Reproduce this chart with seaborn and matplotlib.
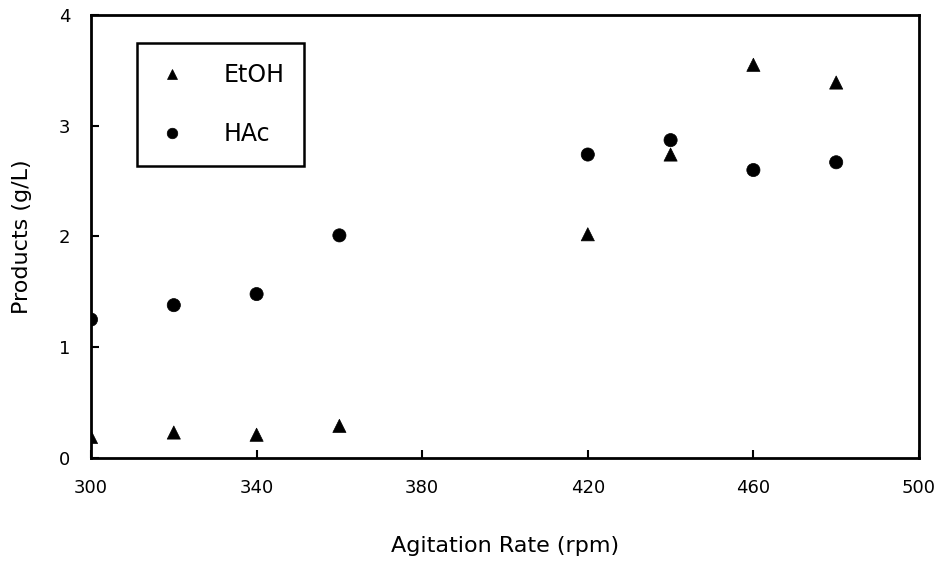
import numpy as np
import pandas as pd
import matplotlib
matplotlib.use("Agg")
import matplotlib.pyplot as plt
import seaborn as sns

rpm = [300, 320, 340, 360, 420, 440, 460, 480]
etoh = [0.19, 0.23, 0.21, 0.29, 2.02, 2.74, 3.55, 3.39]
hac = [1.25, 1.38, 1.48, 2.01, 2.74, 2.87, 2.60, 2.67]
x_ticks = [300, 340, 380, 420, 460, 500]
y_ticks = [0, 1, 2, 3, 4]

df = pd.DataFrame({
    "rpm": rpm * 2,
    "value": etoh + hac,
    "series": ["EtOH"] * len(rpm) + ["HAc"] * len(rpm),
})

sns.set_theme(style="ticks")
plt.rcParams['font.family'] = ['DejaVu Sans']
plt.rcParams['text.color'] = 'black'
plt.rcParams['axes.labelcolor'] = 'black'

fig = plt.figure(figsize=(9.44, 5.63), dpi=100)
ax = fig.add_axes([0.0964, 0.1865, 0.8771, 0.7869])

sns.scatterplot(data=df, x="rpm", y="value", style="series",
                markers={"EtOH": "^", "HAc": "o"}, color="black",
                s=90, edgecolor="black", linewidth=0.5, ax=ax, legend=True)

ax.set_xlim(300, 500)
ax.set_ylim(0, 4)
ax.set_xticks(x_ticks)
ax.set_yticks(y_ticks)
ax.tick_params(direction="in", length=6, width=1.5, colors="black",
               labelsize=13, pad=15)
for sp in ax.spines.values():
    sp.set_visible(True)
    sp.set_linewidth(2)
    sp.set_color("black")

ax.set_xlabel("Agitation Rate (rpm)", fontsize=16, labelpad=28)
ax.set_ylabel("Products (g/L)", fontsize=16, labelpad=19)

leg = ax.legend(loc="upper left", bbox_to_anchor=(0.0556, 0.937),
                frameon=True, fancybox=False, edgecolor="black",
                fontsize=17, markerscale=0.8, handletextpad=1.5,
                labelspacing=1.5, borderpad=0.85, handlelength=1.3,
                borderaxespad=0)
leg.get_frame().set_linewidth(1.8)
leg.get_frame().set_alpha(1)
leg.set_title(None)

fig.savefig("out.png", dpi=100)
